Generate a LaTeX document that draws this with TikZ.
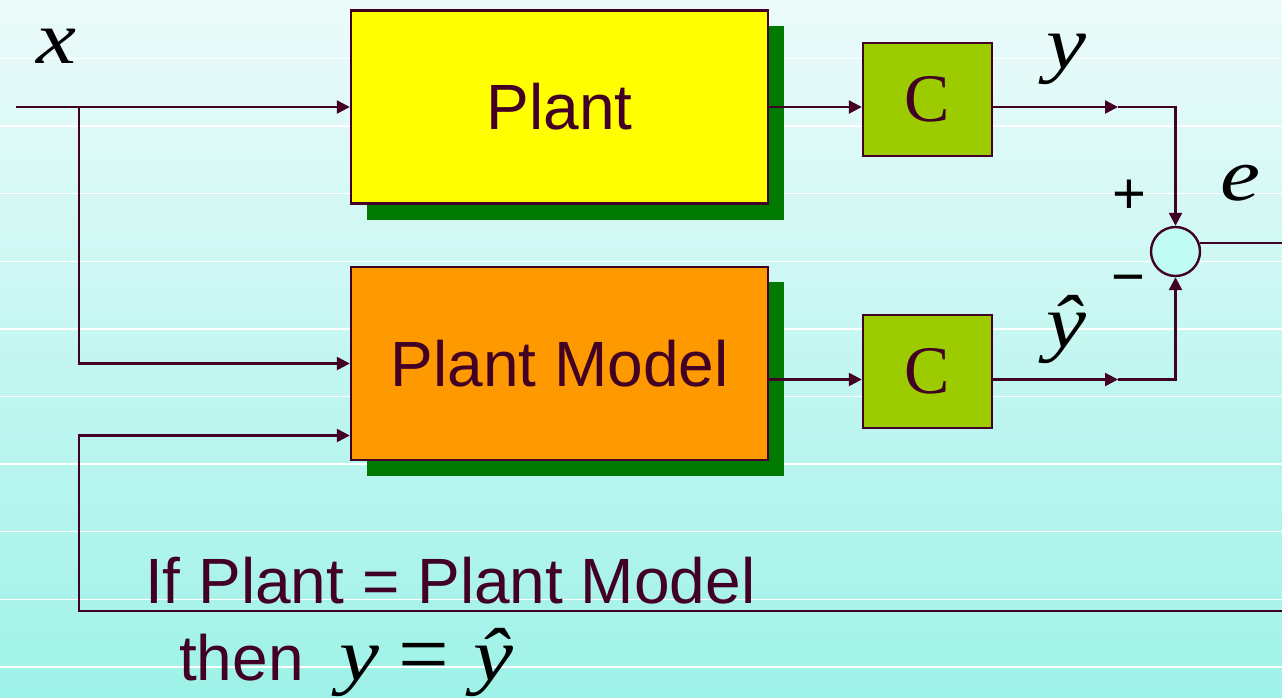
\documentclass[tikz,border=0pt]{standalone}
\usepackage{fontspec}
\setmainfont{Liberation Serif}
\setsansfont{Liberation Sans}
\newfontfamily\mylbfont{Liberation Serif}[FakeStretch=1.2]
\usetikzlibrary{arrows.meta}
\definecolor{ln}{RGB}{66,0,36}
\definecolor{bgtop}{RGB}{236,251,250}
\definecolor{bgbot}{RGB}{158,242,232}
\definecolor{shgreen}{RGB}{0,122,0}
\definecolor{cgreen}{RGB}{156,204,0}
\definecolor{plantyellow}{RGB}{255,255,0}
\definecolor{modelorange}{RGB}{255,153,0}
\definecolor{sumfill}{RGB}{192,252,244}
\tikzset{
  wire/.style={draw=ln, line width=2.4pt},
  arr/.style={-{Triangle[length=13pt,width=13pt]}},
  bigbox/.style={draw=ln, line width=2.4pt, minimum width=417pt, minimum height=193pt, inner sep=0pt,
    font=\sffamily\fontsize{64}{64}\selectfont, text=ln},
  cbox/.style={draw=ln, line width=2.4pt, fill=cgreen, minimum width=129pt, minimum height=113pt, inner sep=0pt,
    font=\rmfamily\fontsize{68}{68}\selectfont, text=ln},
  mathlbl/.style={font=\mylbfont\itshape\fontsize{75}{75}\selectfont, text=black, inner sep=0pt, anchor=base},
  signlbl/.style={font=\sffamily\fontsize{58}{58}\selectfont, text=black, inner sep=0pt},
  sanslbl/.style={font=\sffamily\fontsize{64}{64}\selectfont, text=ln, inner sep=0pt, anchor=base west},
  stripe/.style={draw=white, line width=1.5pt}
}
\begin{document}
\begin{tikzpicture}[x=1pt,y=-1pt]
\useasboundingbox (0,0) rectangle (1282,697);
\shade[top color=bgtop, bottom color=bgbot] (0,0) rectangle (1282,697);
\foreach \k in {0,...,9} \draw[stripe] (0,{58.5+67.6*\k}) -- (1282,{58.5+67.6*\k});

% shadows
\fill[shgreen] (367,26) rectangle (784,220);
\fill[shgreen] (367,282) rectangle (784,476);

% blocks
\node[bigbox, fill=plantyellow] (plant) at (559.5,107) {Plant};
\node[bigbox, fill=modelorange] (model) at (559.5,363.5) {Plant Model};
\node[cbox] (c1) at (927.5,99.5) {C};
\node[cbox] (c2) at (927.5,371.5) {C};
\node[circle, draw=ln, line width=2.4pt, fill=sumfill, minimum size=49pt, inner sep=0pt] (sum) at (1175.5,251.5) {};

% coordinates
\coordinate (xin) at (16,107);
\coordinate (br) at (79,107);
\coordinate (fbR) at (1282,611);
\coordinate (fbL) at (79,611);
\coordinate (m1) at (1118,107);
\coordinate (m2) at (1118,379.5);
\coordinate (eR) at (1282,243);

% connectors
\draw[wire, arr] (xin) -- (plant.west);
\draw[wire, arr] (br) |- (model.west);
\draw[wire, arr] (fbR) -- (fbL) |- ([yshift=-72pt]model.west);
\draw[wire, arr] (plant.east) -- (plant.east -| c1.west);
\draw[wire, arr] ([yshift=-16pt]model.east) -- ([yshift=-16pt]model.east -| c2.west);
\draw[wire, arr] (m1 -| c1.east) -- (m1);
\draw[wire, arr] (m1) -| (sum.north);
\draw[wire, arr] (m2 -| c2.east) -- (m2);
\draw[wire, arr] (m2) -| (sum.south);
\draw[wire] (sum.20) -- (sum.20 -| eR);

% labels
\node[mathlbl] (lx) at (56,63) {x};
\node[mathlbl] (ly) at (1066,68) {y};
\node[mathlbl] (le) at (1240,200) {e};
\node[mathlbl] (lyh) at (1066,347) {ŷ};
\node[signlbl] (lplus) at (1129,197) {+};
\node[signlbl] (lminus) at (1128,286) {−};

\node[sanslbl] (cond1) at (145,603) {If Plant = Plant Model};
\node[sanslbl] (cond2) at (179,680) {then};
\node[mathlbl] (cy) at (359,680) {y};
\node[mathlbl, font=\rmfamily\fontsize{90}{90}\selectfont] (ceq) at (424,684) {=};
\node[mathlbl] (cyh) at (493,680) {ŷ};
\end{tikzpicture}
\end{document}
